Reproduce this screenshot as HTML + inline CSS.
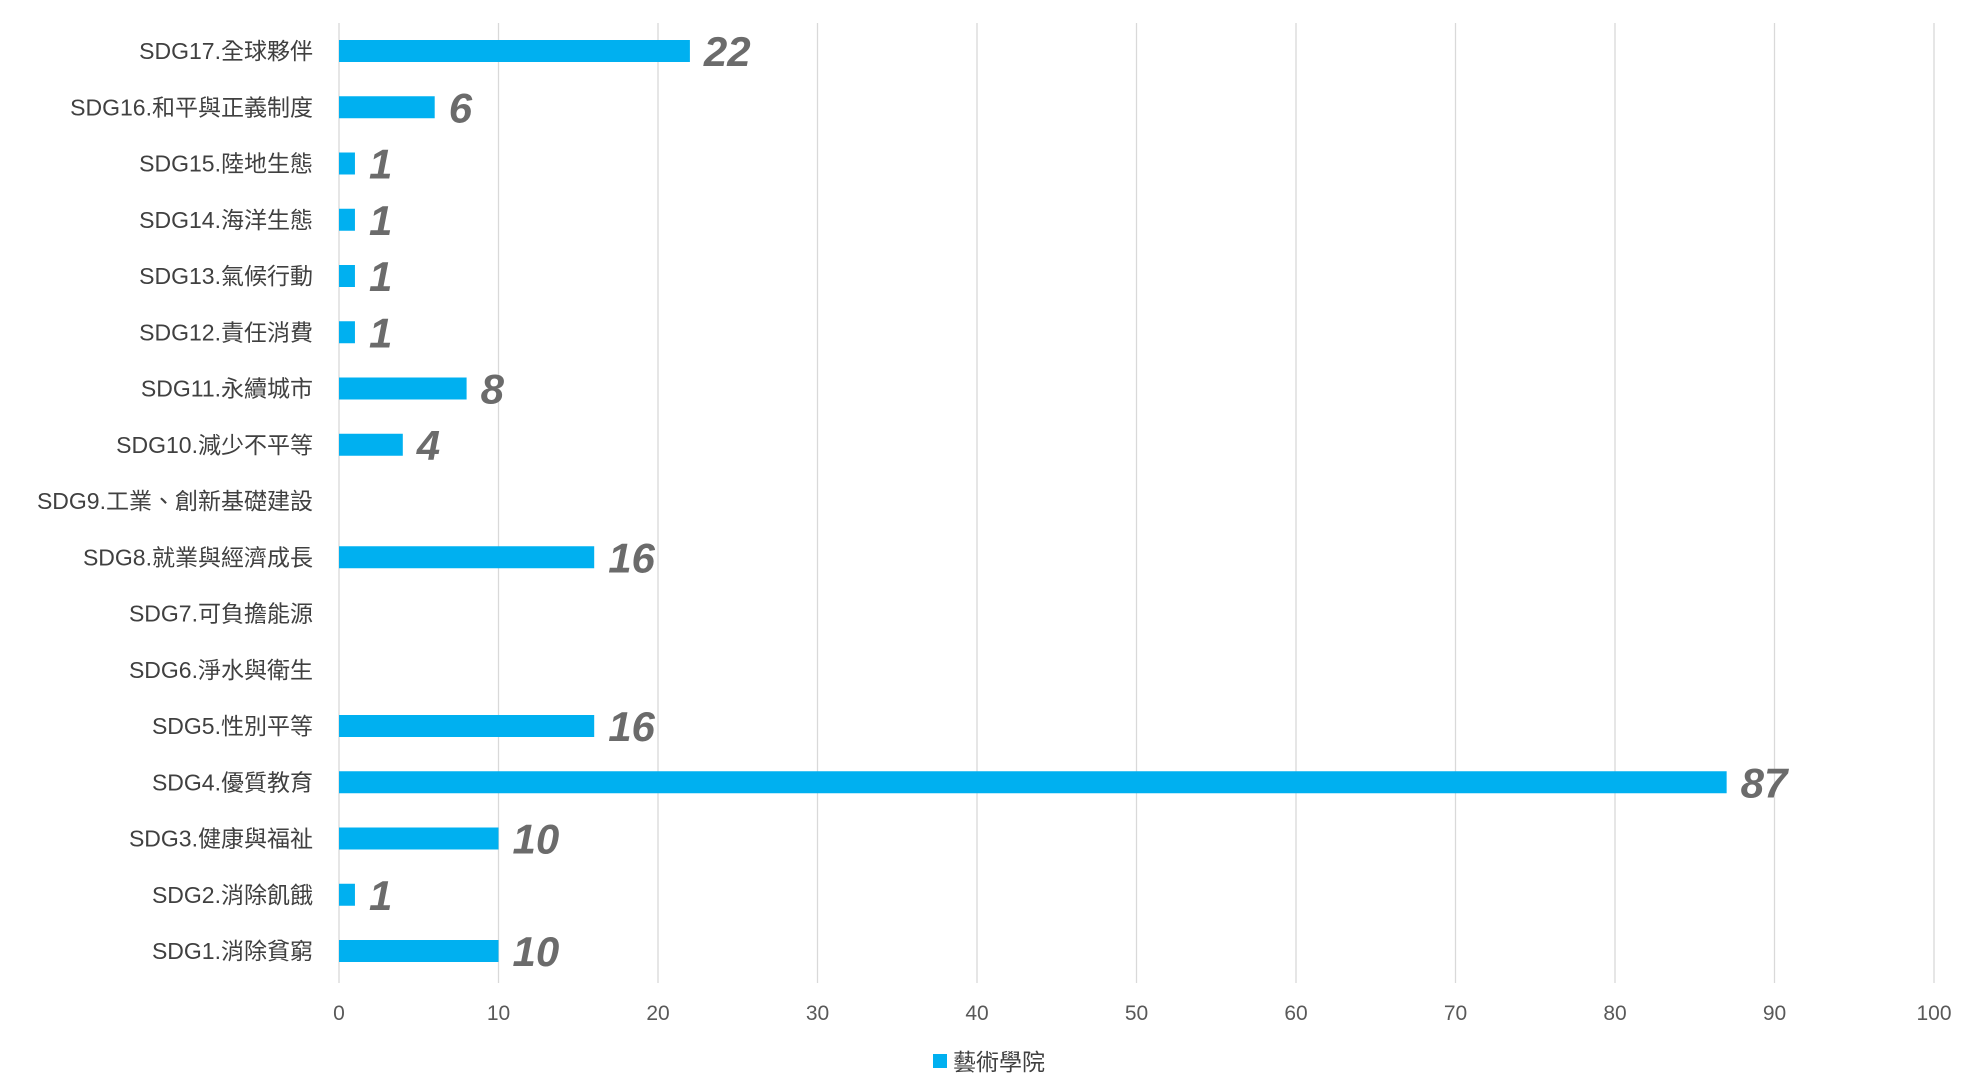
<!DOCTYPE html>
<html><head><meta charset="utf-8"><style>
html,body{margin:0;padding:0;background:#fff;}
svg{display:block;font-family:"Liberation Sans","Noto Sans CJK TC",sans-serif;}
</style></head><body>
<svg id="chart" width="1967" height="1091" viewBox="0 0 1967 1091"></svg>
<script>
const categories=["SDG17.全球夥伴","SDG16.和平與正義制度","SDG15.陸地生態","SDG14.海洋生態","SDG13.氣候行動","SDG12.責任消費","SDG11.永續城市","SDG10.減少不平等","SDG9.工業、創新基礎建設","SDG8.就業與經濟成長","SDG7.可負擔能源","SDG6.淨水與衛生","SDG5.性別平等","SDG4.優質教育","SDG3.健康與福祉","SDG2.消除飢餓","SDG1.消除貧窮"];
const values=[22,6,1,1,1,1,8,4,null,16,null,null,16,87,10,1,10];
const ticks=[0,10,20,30,40,50,60,70,80,90,100];
const seriesName="藝術學院";
const NS="http://www.w3.org/2000/svg";
const svgEl=document.getElementById('chart');
const plotX0=339,plotX1=1934,plotTop=23,plotBottom=983,rowY0=51,rowStep=56.25,barH=22;
function xs(v){return plotX0+(v/100)*(plotX1-plotX0);}
function ys(i){return rowY0+i*rowStep;}
function mk(t,a,txt){const e=document.createElementNS(NS,t);for(const k in a)e.setAttribute(k,a[k]);if(txt!==undefined)e.textContent=txt;svgEl.appendChild(e);return e;}
ticks.forEach(t=>{
  const g=mk('line',{x1:xs(t),x2:xs(t),y1:plotTop,y2:plotBottom,stroke:'#d9d9d9','stroke-width':1.3});
  
  
  const l=mk('text',{x:xs(t),y:1020,'text-anchor':'middle','font-size':21,fill:'#595959'},String(t));
  
  
});
categories.forEach((c,i)=>{
  const y=ys(i);
  const l=mk('text',{x:313,y:y+8,'text-anchor':'end','font-size':23,fill:'#404040'},c);
  
  
  const v=values[i];
  if(v!==null&&v!==undefined){
    const b=mk('rect',{x:plotX0,y:y-barH/2,width:xs(v)-plotX0,height:barH,fill:'#00b0f0'});
    
    
    const t=mk('text',{x:xs(v)+14,y:y+15,'font-size':42,'font-weight':'bold','font-style':'italic',fill:'#6b6b6b'},String(v));
    
    
  }
});
const lr=mk('rect',{x:933,y:1054,width:14,height:14,fill:'#00b0f0'});


const lt=mk('text',{x:953,y:1070,'font-size':23,fill:'#404040'},seriesName);


</script>
</body></html>
